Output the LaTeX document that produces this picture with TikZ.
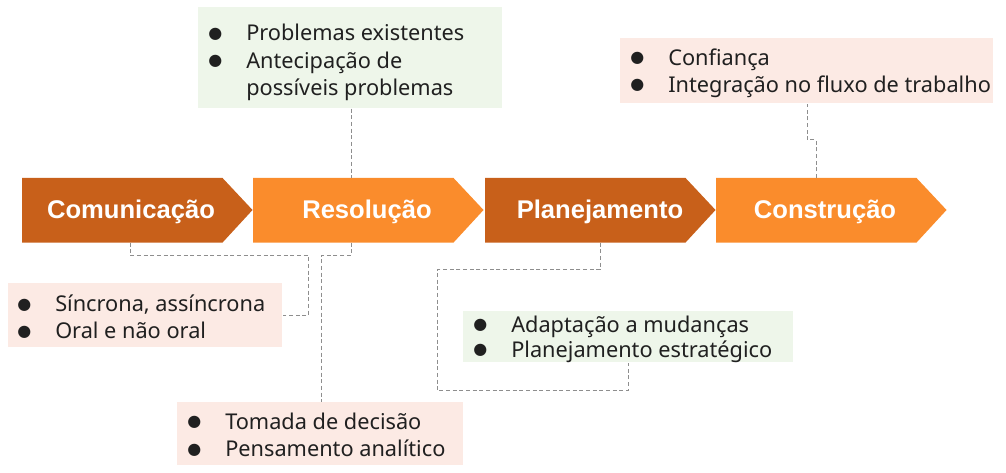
\documentclass[tikz,border=0pt]{standalone}
\usepackage{fontspec}
\setmainfont{Noto Sans}
\newfontfamily\titlefont{Liberation Sans}
\newfontfamily\symfont{DejaVu Sans}
\usetikzlibrary{calc}
\definecolor{dkor}{HTML}{C8601A}
\definecolor{ltor}{HTML}{FA8C2C}
\definecolor{pinkbg}{HTML}{FCEAE4}
\definecolor{greenbg}{HTML}{EEF6EA}
\definecolor{dashc}{HTML}{8E8E8E}
\definecolor{txt}{HTML}{202020}
\newcommand\bul{\makebox[28.5pt][l]{\raisebox{1.9pt}[0pt][0pt]{\symfont\fontsize{12}{12}\selectfont ●}}}
\newcommand\nobul{\hspace*{28.5pt}}
\begin{document}
\begin{tikzpicture}[x=0.75pt,y=-0.75pt,
  chevbody/.style={anchor=north west, inner sep=0, minimum width=150pt, minimum height=48pt},
  chevtext/.style={text=white, font=\titlefont\bfseries\fontsize{19.2}{22}\selectfont, inner sep=0},
  panel/.style={anchor=north west, inner sep=0},
  pinkpanel/.style={panel, fill=pinkbg},
  greenpanel/.style={panel, fill=greenbg},
  itemlist/.style={anchor=west, inner sep=0, align=left, text=txt, font=\fontsize{16.3}{20.5}\selectfont},
  link/.style={draw=dashc, dash pattern=on 3pt off 2pt, line width=0.75pt}
]
\useasboundingbox (0,0) rectangle (1006,473);

% chevrons
\node[chevbody] (com) at (22,178) {};
\fill[dkor] (com.north west) -- (com.north east) -- ++(30,32) -- (com.south east) -- (com.south west) -- cycle;
\node[chevbody] (res) at (253,178) {};
\fill[ltor] (res.north west) -- (res.north east) -- ++(30,32) -- (res.south east) -- (res.south west) -- cycle;
\node[chevbody] (pla) at (485,178) {};
\fill[dkor] (pla.north west) -- (pla.north east) -- ++(30,32) -- (pla.south east) -- (pla.south west) -- cycle;
\node[chevbody] (con) at (716,178) {};
\fill[ltor] (con.north west) -- (con.north east) -- ++(30,32) -- (con.south east) -- (con.south west) -- cycle;

\node[chevtext] (comT) at (131,211.5) {Comunicação};
\node[chevtext] (resT) at (367,211.5) {Resolução};
\node[chevtext] (plaT) at (600,211.5) {Planejamento};
\node[chevtext] (conT) at (825,211.5) {Construção};

% panels
\node[greenpanel, minimum width=228pt, minimum height=75.75pt] (tg) at (198,7) {};
\node[pinkpanel, minimum width=279.75pt, minimum height=48.75pt] (tr) at (620,38) {};
\node[pinkpanel, minimum width=205.5pt, minimum height=48pt] (lp) at (8,283) {};
\node[greenpanel, minimum width=247.5pt, minimum height=38.25pt] (mg) at (463,311) {};
\node[pinkpanel, minimum width=214.5pt, minimum height=47.25pt] (bp) at (177,402) {};

% lists
\node[itemlist] (tgL) at (208,62.5) {\bul Problemas existentes\\\bul Antecipação de\\\nobul possíveis problemas};
\node[itemlist] (trL) at (630,73) {\bul Confiança\\\bul Integração no fluxo de trabalho};
\node[itemlist] (lpL) at (17,317) {\bul Síncrona, assíncrona\\\bul Oral e não oral};
\node[itemlist, font=\fontsize{16.3}{18.75}\selectfont] (mgL) at (473,339) {\bul Adaptação a mudanças\\\bul Planejamento estratégico};
\node[itemlist] (bpL) at (187,435) {\bul Tomada de decisão\\\bul Pensamento analítico};

% connectors
\draw[link] ($(tg.south west)+(153,0)$) -- ($(res.north west)+(98,0)$);
\draw[link] ($(con.north west)+(100,0)$) -- ++(0,-38) -- ++(-9,0) -- ($(tr.south west)+(187,0)$);
\draw[link] ($(com.south west)+(108,0)$) -- ++(0,13) -| ($(lp.east)+(26,0)$) -- (lp.east);
\draw[link] ($(res.south west)+(98,0)$) -- ++(0,13) -| ($(bp.north west)+(144,0)$);
\draw[link] ($(pla.south west)+(115,0)$) -- ++(0,27) -| ++(-163,121) -| ($(mg.south west)+(165,0)$);
\end{tikzpicture}
\end{document}
